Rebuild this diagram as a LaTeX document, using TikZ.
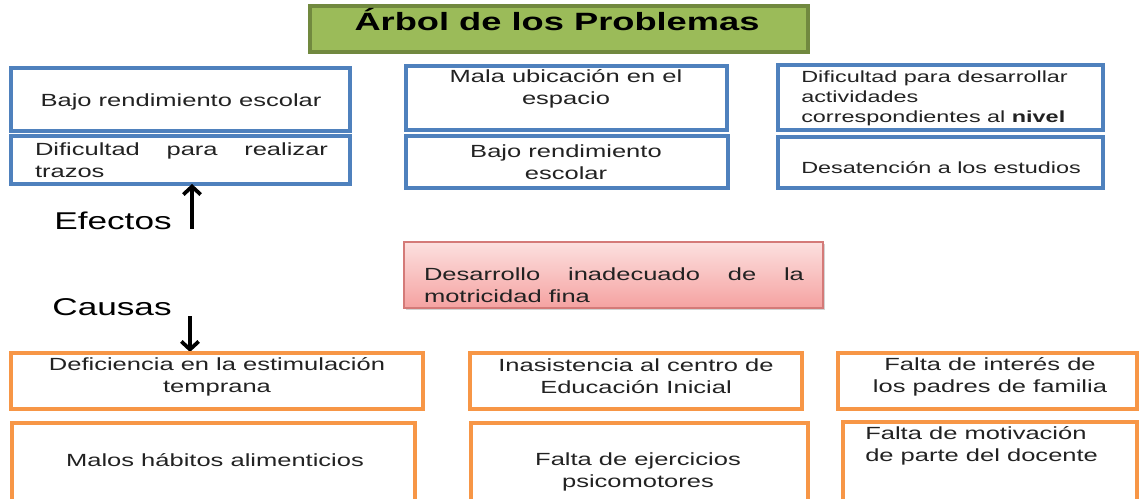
\documentclass[tikz,border=0pt]{standalone}
\usepackage{fontspec}
\setmainfont{Liberation Sans}[FakeStretch=1.45]
\usetikzlibrary{arrows.meta,shadows}
\definecolor{bluebd}{HTML}{4F81BD}
\definecolor{orangebd}{HTML}{F79646}
\definecolor{greenfill}{HTML}{9BBB59}
\definecolor{greenbd}{HTML}{71893F}
\definecolor{redtop}{HTML}{FCE0DF}
\definecolor{redbot}{HTML}{F5A2A1}
\definecolor{redbd}{HTML}{D47A78}
\definecolor{txtgray}{HTML}{222222}
\newcommand\mkbox[6]{\node[#1, minimum width={(#5-#3)*0.75pt}, minimum height={(#6-#4)*0.75pt}] (#2) at ({(#3+#5)/2},{(#4+#6)/2}) {};}
\tikzset{
  box/.style={draw, rectangle, line width=2.8pt, fill=white, inner sep=0pt, outer sep=0pt},
  bluebox/.style={box, draw=bluebd},
  orangebox/.style={box, draw=orangebd},
  titlebox/.style={box, draw=greenbd, fill=greenfill},
  corebox/.style={box, draw=redbd, line width=1.2pt, top color=redtop, bottom color=redbot,
     drop shadow={opacity=0.35, shadow xshift=1.2pt, shadow yshift=-1.2pt}},
  txt/.style={font=\fontsize{13.2}{16.5}\selectfont, text=txtgray, align=center, inner sep=0pt},
  txts/.style={txt, font=\fontsize{12.1}{15}\selectfont},
  txtj/.style={txt, align=justify},
  lbl/.style={font=\fontsize{18.2}{21}\selectfont, text=black, inner sep=0pt},
  arr/.style={line width=2.8pt, -{Straight Barb[length=6pt,width=13pt]}}
}
\begin{document}
\begin{tikzpicture}[x=0.75pt,y=-0.75pt]
\useasboundingbox (0,0) rectangle (1139,499);
\clip (0,0) rectangle (1139,499);
% title
\mkbox{titlebox}{title}{310}{6}{808}{52}
\node[font=\bfseries\fontsize{18.75}{22}\selectfont, inner sep=0pt] (titletxt) at (557,20) {Árbol de los Problemas};
% effects
\mkbox{bluebox}{a1}{11}{68}{350}{131}
\mkbox{bluebox}{a2}{11}{136}{350}{184}
\mkbox{bluebox}{b1}{406}{66}{727}{130}
\mkbox{bluebox}{b2}{406}{136}{728}{188}
\mkbox{bluebox}{c1}{778}{65}{1103}{130}
\mkbox{bluebox}{c2}{778}{137}{1103}{188}
\node[txt] (ta1) at (181,102) {Bajo rendimiento escolar};
\node[txtj, text width=219.75pt] (ta2) at (181.5,160) {Dificultad para realizar\linebreak trazos};
\node[txt] (tb1) at (566,89) {Mala ubicación en el\\espacio};
\node[txt] (tb2) at (566,162) {Bajo rendimiento\\escolar};
\node[txts, align=left, anchor=west] (tc1) at (801,98) {Dificultad para desarrollar\\actividades\\correspondientes al \textbf{nivel}};
\node[txts, anchor=west] (tc2) at (801,168) {Desatención a los estudios};
% labels and arrows
\node[lbl] (efectos) at (113,221) {Efectos};
\node[lbl] (causas) at (112,307) {Causas};
\coordinate (upS) at (192,229);
\coordinate (upE) at (192,184);
\draw[arr] (upS) -- (upE);
\coordinate (dnS) at (190,316);
\coordinate (dnE) at (190,352);
\draw[arr] (dnS) -- (dnE);
% core problem
\mkbox{corebox}{core}{404}{242}{823}{308}
\node[txtj, text width=285pt] (tcore) at (614,285) {Desarrollo inadecuado de la\linebreak motricidad fina};
% causes
\mkbox{orangebox}{d1}{11}{353}{423}{409}
\mkbox{orangebox}{d2}{12}{423}{415}{510}
\mkbox{orangebox}{e1}{470}{353}{802}{409}
\mkbox{orangebox}{e2}{471}{423}{808}{510}
\mkbox{orangebox}{f1}{838}{353}{1137}{409}
\mkbox{orangebox}{f2}{843}{422}{1137}{510}
\node[txt] (td1) at (217,377) {Deficiencia en la estimulación\\temprana};
\node[txt] (td2) at (215,460) {Malos hábitos alimenticios};
\node[txt] (te1) at (636,376) {Inasistencia al centro de\\Educación Inicial};
\node[txt] (te2) at (638,472) {Falta de ejercicios\\psicomotores};
\node[txt] (tf1) at (990,377) {Falta de interés de\\los padres de familia};
\node[txt, align=left, anchor=west] (tf2) at (865,446) {Falta de motivación\\de parte del docente};
\end{tikzpicture}
\end{document}
